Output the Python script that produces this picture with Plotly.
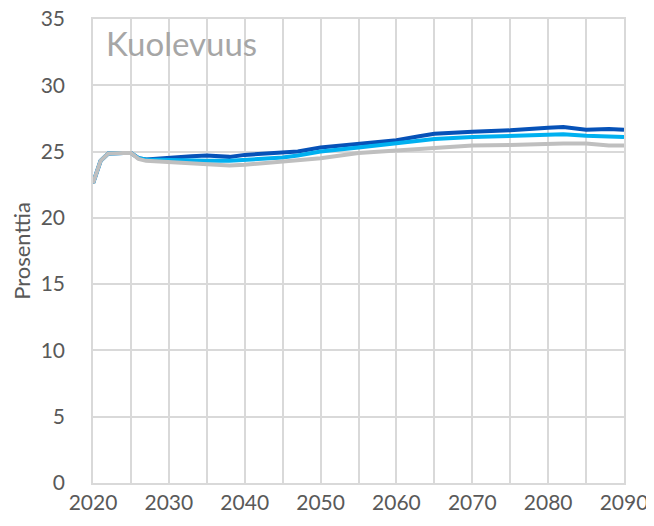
import plotly.graph_objects as go

years = [2020, 2021, 2022, 2023, 2024, 2025, 2026, 2027, 2030, 2033, 2035, 2038, 2040,
         2045, 2047, 2050, 2055, 2060, 2063, 2065, 2070, 2075, 2080, 2082, 2085, 2088, 2090]

dark_blue = [22.6, 24.3, 24.85, 24.9, 24.9, 24.9, 24.5, 24.4, 24.55, 24.65, 24.7, 24.6, 24.75,
             24.9, 25.0, 25.3, 25.6, 25.85, 26.15, 26.35, 26.5, 26.6, 26.8, 26.85, 26.65, 26.7, 26.65]
light_blue = [22.6, 24.3, 24.85, 24.9, 24.9, 24.9, 24.5, 24.4, 24.35, 24.3, 24.3, 24.3, 24.35,
              24.55, 24.7, 25.0, 25.3, 25.6, 25.8, 25.95, 26.1, 26.2, 26.3, 26.3, 26.2, 26.15, 26.1]
gray = [22.6, 24.3, 24.85, 24.9, 24.9, 24.9, 24.45, 24.3, 24.2, 24.05, 24.0, 23.95, 24.0,
        24.25, 24.3, 24.5, 24.9, 25.1, 25.2, 25.3, 25.45, 25.5, 25.6, 25.6, 25.6, 25.45, 25.45]

x_ticks = list(range(2020, 2091, 5))
x_labels = [str(y) if y % 10 == 0 else '' for y in x_ticks]
y_ticks = list(range(0, 36, 5))

fig = go.Figure()
fig.add_trace(go.Scatter(x=years, y=dark_blue, mode='lines',
                         line=dict(color='#0652b8', width=4)))
fig.add_trace(go.Scatter(x=years, y=light_blue, mode='lines',
                         line=dict(color='#00b0f0', width=4)))
fig.add_trace(go.Scatter(x=years, y=gray, mode='lines',
                         line=dict(color='#bfbfbf', width=4)))

fig.add_annotation(text='Kuolevuus', x=0.02, y=0.995, xref='paper', yref='paper',
                   xanchor='left', yanchor='top', showarrow=False,
                   font=dict(family='Lato', size=33, color='#a6a6a6'))

# page body has an 8px margin, so the figure is a bit smaller than the window
fig.update_layout(
    width=646, height=518,
    margin=dict(l=85, r=30, t=11, b=43),
    paper_bgcolor='white', plot_bgcolor='white',
    showlegend=False,
    font=dict(family='Lato', size=21, color='#595959'),
    xaxis=dict(
        range=[2020, 2090],
        tickvals=x_ticks, ticktext=x_labels,
        showgrid=True, gridcolor='#d9d9d9', gridwidth=1.5,
        showline=True, linecolor='#d9d9d9', linewidth=1.5, mirror=True,
        zeroline=False, ticks='',
        automargin=False, ticklabeloverflow='allow',
        tickfont=dict(size=21, color='#595959'),
    ),
    yaxis=dict(
        range=[0, 35], tickvals=y_ticks,
        showgrid=True, gridcolor='#d9d9d9', gridwidth=1.5,
        showline=True, linecolor='#d9d9d9', linewidth=1.5, mirror=True,
        zeroline=False, ticks='',
        automargin=False, ticklabeloverflow='allow',
        ticklabelstandoff=22,
        title=dict(text='Prosenttia', font=dict(size=22, color='#595959'), standoff=8),
        tickfont=dict(size=21, color='#595959'),
    ),
)

fig.write_html("out.html")
